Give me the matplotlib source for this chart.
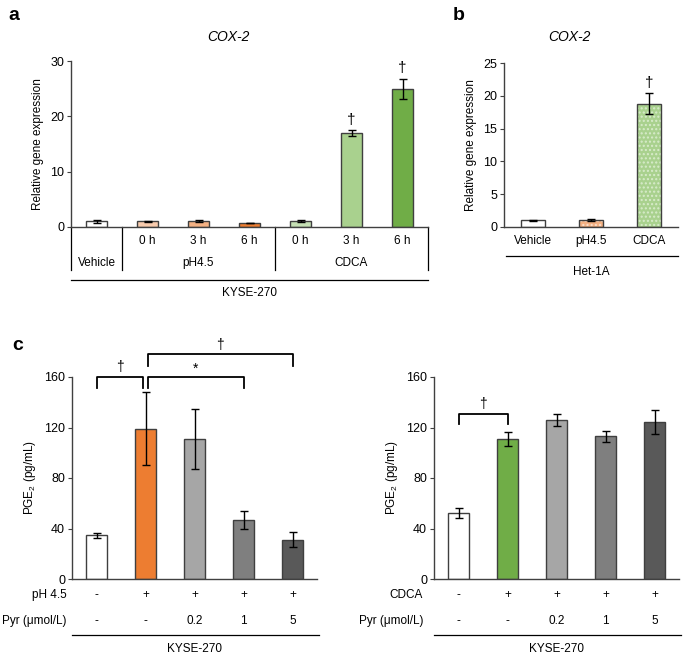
import matplotlib
matplotlib.use("Agg")
import matplotlib.pyplot as plt

plt.rcParams["font.family"] = ["Liberation Sans", "DejaVu Sans"]
plt.rcParams["mathtext.fontset"] = "custom"
plt.rcParams["mathtext.rm"] = "Liberation Sans"
plt.rcParams["mathtext.it"] = "Liberation Sans:italic"
plt.rcParams["font.size"] = 8
plt.rcParams["hatch.linewidth"] = 1.0

# panel a: COX-2 in KYSE-270
a_times = ["", "0 h", "3 h", "6 h", "0 h", "3 h", "6 h"]
a_values = [1.0, 1.0, 1.1, 0.7, 1.1, 17.0, 25.0]
a_errors = [0.2, 0.05, 0.15, 0.05, 0.2, 0.5, 1.8]
a_colors = ["#FFFFFF", "#F8CBAD", "#F4B183", "#ED7D31", "#C5E0B4", "#A9D18E", "#70AD47"]
a_groups = [("Vehicle", 0, 0), ("pH4.5", 1, 3), ("CDCA", 4, 6)]
a_marks = ["", "", "", "", "", "\u2020", "\u2020"]

# panel b: COX-2 in Het-1A
b_labels = ["Vehicle", "pH4.5", "CDCA"]
b_values = [1.0, 1.0, 18.8]
b_errors = [0.1, 0.15, 1.6]
b_colors = ["#FFFFFF", "#F4B183", "#A9D18E"]
b_hatch_colors = [None, "#FBE0CC", "#D8EBCB"]
b_marks = ["", "", "\u2020"]

# panel c: PGE2
c_pyr = ["-", "-", "0.2", "1", "5"]
c_treat = ["-", "+", "+", "+", "+"]
c_colors_ph = ["#FFFFFF", "#ED7D31", "#A6A6A6", "#7F7F7F", "#595959"]
c_colors_cdca = ["#FFFFFF", "#70AD47", "#A6A6A6", "#7F7F7F", "#595959"]
ph_values = [34.5, 119.0, 111.0, 46.5, 31.0]
ph_errors = [2.0, 29.0, 23.5, 7.0, 6.0]
cdca_values = [52.0, 111.0, 126.0, 113.0, 124.0]
cdca_errors = [4.0, 5.5, 5.0, 4.5, 9.5]

W, H = 685, 656
fig = plt.figure(figsize=(W / 100, H / 100), dpi=100)
EDGE = "#3F3F3F"


def px_axes(left, top, right, bottom):
    return fig.add_axes([left / W, 1 - bottom / H, (right - left) / W, (bottom - top) / H])


def style(ax, ylabel):
    for s in ("top", "right"):
        ax.spines[s].set_visible(False)
    for s in ("left", "bottom"):
        ax.spines[s].set_color("#404040")
        ax.spines[s].set_linewidth(1.0)
    ax.set_xticks([])
    ax.tick_params(axis="y", length=3, width=0.8, color="#404040", pad=2, labelsize=9)
    ax.set_ylabel(ylabel, fontsize=8.5, labelpad=4)


def below(ax, px):
    # pixel offset below the x-axis -> axes fraction
    h = ax.get_position().height * H
    return -px / h


def bars(ax, values, errors, colors, width=0.41, hatch_colors=None):
    x = list(range(len(values)))
    for i in x:
        if hatch_colors and hatch_colors[i]:
            ax.bar(i, values[i], width=width, color=colors[i], hatch="....",
                   edgecolor=hatch_colors[i], linewidth=0, zorder=2)
            ax.bar(i, values[i], width=width, color="none", edgecolor=EDGE,
                   linewidth=1.0, zorder=3)
        else:
            ax.bar(i, values[i], width=width, color=colors[i], edgecolor=EDGE,
                   linewidth=1.0, zorder=2)
    ax.errorbar(x, values, yerr=errors, fmt="none", ecolor="black",
                elinewidth=1.0, capsize=3, capthick=1.0, zorder=4)


def vline(ax, x, y0, y1):
    ax.plot([x, x], [y0, y1], color="black", lw=0.9,
            transform=ax.get_xaxis_transform(), clip_on=False)


def hline(ax, x0, x1, y):
    ax.plot([x0, x1], [y, y], color="black", lw=0.9,
            transform=ax.get_xaxis_transform(), clip_on=False)


def bracket(ax, x0, x1, y, leg, label, dy):
    ax.plot([x0, x0, x1, x1], [y - leg, y, y, y - leg], color="black", lw=1.3, clip_on=False)
    ax.text((x0 + x1) / 2, y + dy, label, ha="center", va="bottom", fontsize=10)


# ---------- panel a ----------
ax = px_axes(71, 61, 428, 227)
bars(ax, a_values, a_errors, a_colors)
ax.set_xlim(-0.5, len(a_values) - 0.5)
ax.set_ylim(0, 30)
ax.set_yticks([0, 10, 20, 30])
style(ax, "Relative gene expression")
tr = ax.get_xaxis_transform()
for i, t in enumerate(a_times):
    ax.text(i, below(ax, 14), t, transform=tr, ha="center", va="center", fontsize=8.5)
for name, g0, g1 in a_groups:
    ax.text((g0 + g1) / 2, below(ax, 36), name, transform=tr, ha="center", va="center", fontsize=8.5)
for xs in (-0.5, 0.5, 3.5, 6.5):
    vline(ax, xs, 0, below(ax, 43))
hline(ax, -0.5, 6.5, below(ax, 53))
ax.text(3, below(ax, 66), "KYSE-270", transform=tr, ha="center", va="center", fontsize=8.5)
for i, m in enumerate(a_marks):
    if m:
        ax.text(i, a_values[i] + a_errors[i] + 0.6, m, ha="center", va="bottom", fontsize=11)
fig.text(228 / W, 1 - 37 / H, "COX-2", ha="center", va="center", fontsize=10, style="italic")
fig.text(8 / W, 1 - 15 / H, "a", ha="left", va="center", fontsize=14, weight="bold")

# ---------- panel b ----------
ax = px_axes(504, 63, 678, 227)
bars(ax, b_values, b_errors, b_colors, width=0.42, hatch_colors=b_hatch_colors)
ax.set_xlim(-0.5, len(b_values) - 0.5)
ax.set_ylim(0, 25)
ax.set_yticks([0, 5, 10, 15, 20, 25])
style(ax, "Relative gene expression")
tr = ax.get_xaxis_transform()
for i, t in enumerate(b_labels):
    ax.text(i, below(ax, 14), t, transform=tr, ha="center", va="center", fontsize=8.5)
hline(ax, -0.47, 2.5, below(ax, 29))
ax.text(1, below(ax, 45), "Het-1A", transform=tr, ha="center", va="center", fontsize=8.5)
for i, m in enumerate(b_marks):
    if m:
        ax.text(i, b_values[i] + b_errors[i] + 0.5, m, ha="center", va="bottom", fontsize=11)
fig.text(569 / W, 1 - 37 / H, "COX-2", ha="center", va="center", fontsize=10, style="italic")
fig.text(453 / W, 1 - 15 / H, "b", ha="left", va="center", fontsize=14, weight="bold")


# ---------- panel c ----------
def panel_c(left, right, values, errors, colors, treat_name, label_x):
    ax = px_axes(left, 377, right, 579)
    bars(ax, values, errors, colors, width=0.41)
    ax.set_xlim(-0.5, len(values) - 0.5)
    ax.set_ylim(0, 160)
    ax.set_yticks([0, 40, 80, 120, 160])
    style(ax, "PGE$_2$ (pg/mL)")
    tr = ax.get_xaxis_transform()
    for i in range(len(values)):
        ax.text(i, below(ax, 16), c_treat[i], transform=tr, ha="center", va="center", fontsize=8.5)
        ax.text(i, below(ax, 42), c_pyr[i], transform=tr, ha="center", va="center", fontsize=8.5)
    fig.text(label_x / W, 1 - 595 / H, treat_name, ha="right", va="center", fontsize=8.5)
    fig.text(label_x / W, 1 - 621 / H, "Pyr (\u03bcmol/L)", ha="right", va="center", fontsize=8.5)
    hline(ax, -0.5, 4.55, below(ax, 56))
    ax.text(2, below(ax, 70), "KYSE-270", transform=tr, ha="center", va="center", fontsize=8.5)
    return ax


ax = panel_c(72, 317, ph_values, ph_errors, c_colors_ph, "pH 4.5", 67)
bracket(ax, 0, 0.95, 160, 8.5, "\u2020", 2)
bracket(ax, 1.05, 3, 160, 8.5, "*", 1)
bracket(ax, 1.05, 4, 178, 9.5, "\u2020", 2)
fig.text(12 / W, 1 - 345 / H, "c", ha="left", va="center", fontsize=14, weight="bold")

ax = panel_c(434, 679, cdca_values, cdca_errors, c_colors_cdca, "CDCA", 423)
bracket(ax, 0, 1, 131, 8.5, "\u2020", 2)

fig.savefig("out.png", dpi=100)
